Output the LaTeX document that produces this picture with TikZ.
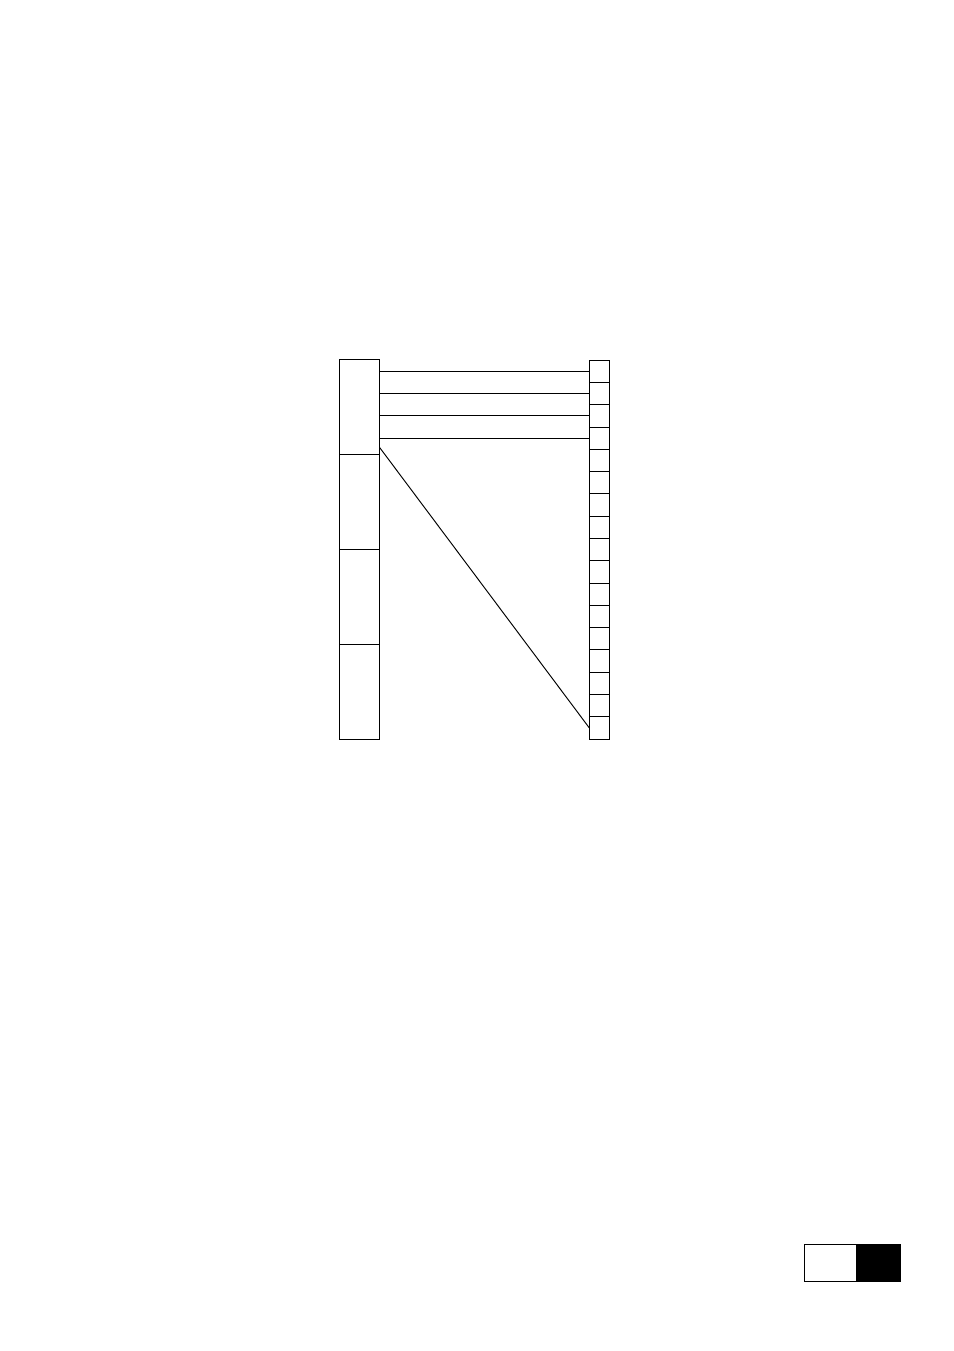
\documentclass[tikz,border=0pt]{standalone}
\usepackage{tikz}
\usetikzlibrary{positioning}
\usetikzlibrary{calc}

\tikzset{
    cellbase/.style={draw, line width=0.6pt, inner sep=0pt, outer sep=0pt},
    bigcell/.style={cellbase, minimum width=8.80mm, minimum height=20.91mm},
    smallcell/.style={cellbase, minimum width=4.40mm, minimum height=4.904mm},
    markcell/.style={cellbase, minimum height=8.14mm}
}

\begin{document}
\begin{tikzpicture}[x=0.2201mm, y=-0.2201mm, line width=0.6pt]
        \useasboundingbox (0,0) rectangle (954,1351);
        % left column
        \node[bigcell] (L1) at (359.5,406.8) {};
        \foreach \i [count=\j from 1] in {2,3,4}
            \node[bigcell, below=0pt of L\j] (L\i) {};
        % right column
        \node[smallcell] (R1) at (599.3,371.4) {};
        \foreach \i [count=\j from 1] in {2,...,17}
            \node[smallcell, below=0pt of R\j] (R\i) {};
        % links
        \foreach \i in {1,...,4}
            \draw (R\i.west -| L1.east) -- (R\i.west);
        \coordinate (Lfoot) at ($(L1.south east)+(0,-7)$);
        \draw (Lfoot) -- (R17.west);
        % marker
        \node[markcell, minimum width=11.38mm] (M1) at (830.2,1262.8) {};
        \node[markcell, minimum width=9.84mm, fill=black, right=0pt of M1] (M2) {};
    \end{tikzpicture}
\end{document}
